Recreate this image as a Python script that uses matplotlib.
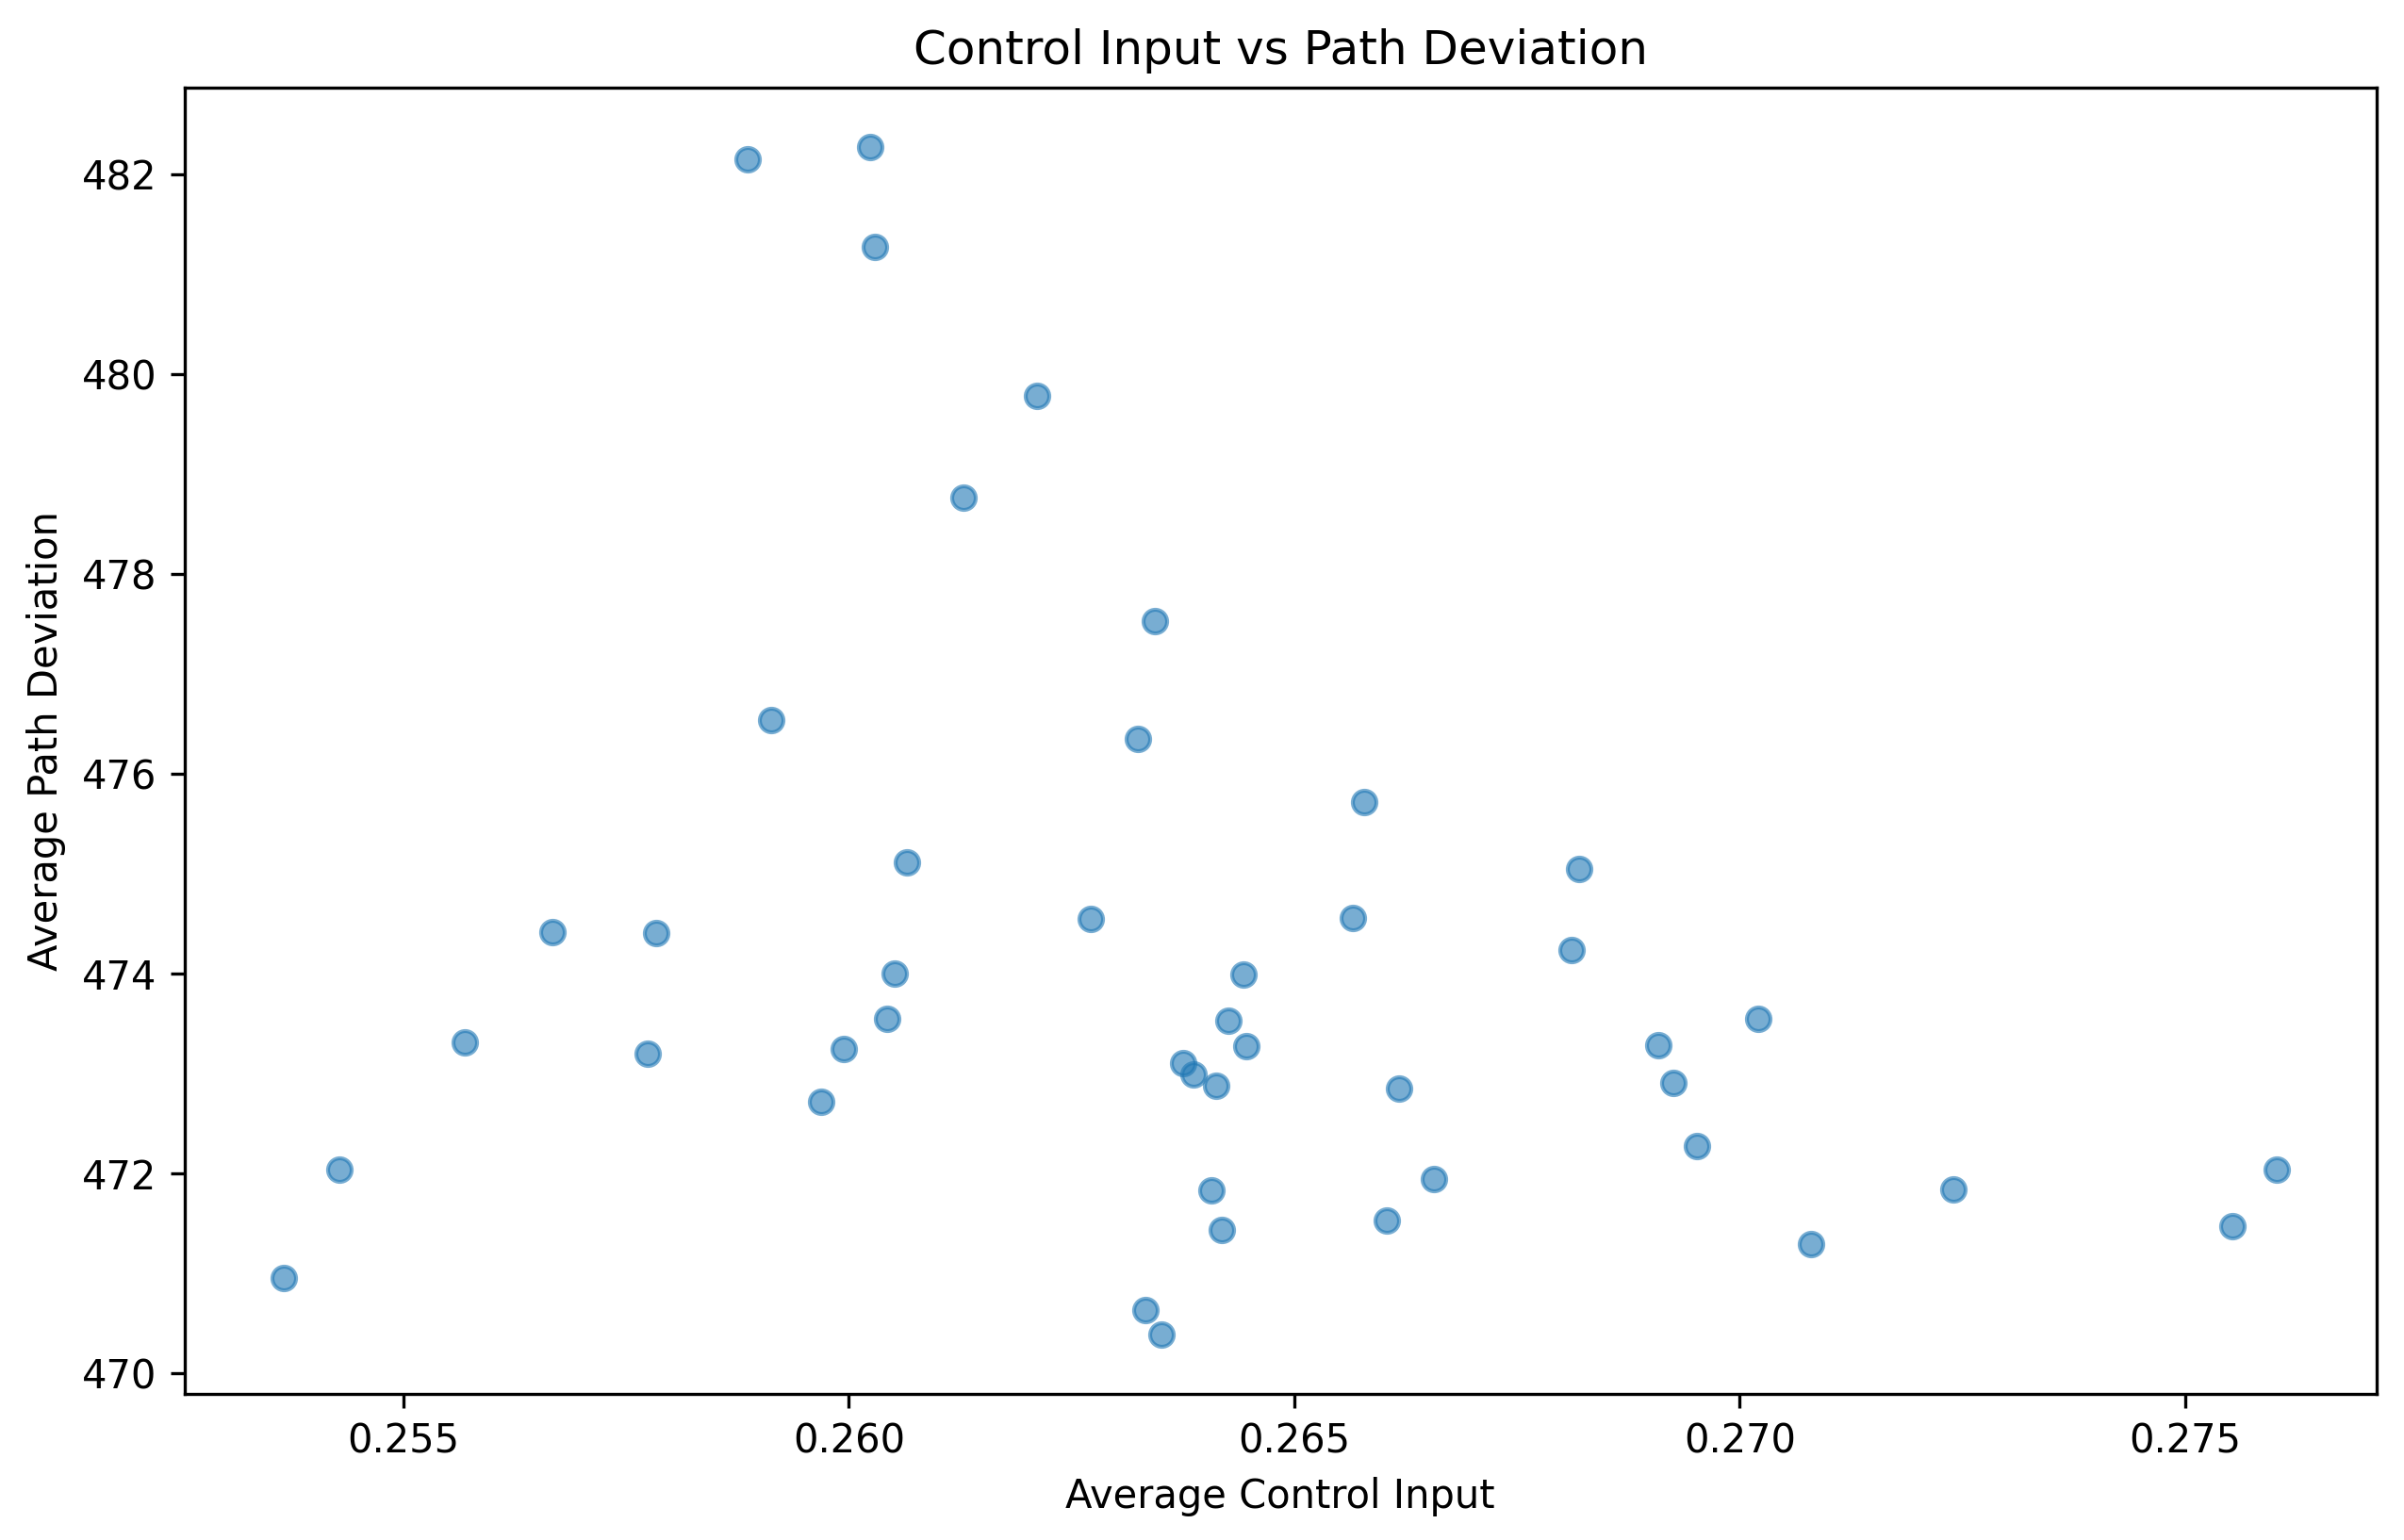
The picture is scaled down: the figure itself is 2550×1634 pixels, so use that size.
import matplotlib
matplotlib.use("Agg")
import matplotlib.pyplot as plt

control_input = [
    0.25366, 0.25428, 0.25569, 0.25667, 0.25774, 0.25784, 0.25886, 0.25913,
    0.25969, 0.25994, 0.26024, 0.26029, 0.26043, 0.26051, 0.26065, 0.26129,
    0.26211, 0.26272, 0.26325, 0.263333, 0.26344, 0.263513, 0.263753, 0.263873,
    0.264074, 0.264127, 0.264188, 0.264262, 0.26443, 0.264466, 0.26566, 0.26578,
    0.266041, 0.266179, 0.266564, 0.26811, 0.26820, 0.26909, 0.26926, 0.26952,
    0.27021, 0.27080, 0.27240, 0.27553, 0.27603,
]
path_deviation = [
    470.95, 472.04, 473.31, 474.42, 473.20, 474.41, 482.15, 476.54,
    472.72, 473.25, 482.27, 481.27, 473.55, 474.00, 475.11, 478.76,
    479.78, 474.55, 476.35, 470.636, 477.53, 470.385, 473.108, 472.994,
    471.834, 472.881, 471.438, 473.532, 473.994, 473.277, 474.56, 475.72,
    471.532, 472.853, 471.941, 474.24, 475.05, 473.28, 472.91, 472.27,
    473.55, 471.29, 471.84, 471.47, 472.04,
]

fig = plt.figure(figsize=(8.5, 1634 / 300), dpi=300)
W, H = 2550, 1634
ax = fig.add_axes([195.7 / W, (H - 1479.3) / H, 2325 / W, 1386 / H])
ax.scatter(control_input, path_deviation, alpha=0.6)
ax.set_title("Control Input vs Path Deviation")
ax.set_xlabel("Average Control Input")
ax.set_ylabel("Average Path Deviation")
fig.savefig("out.png", dpi=300)
